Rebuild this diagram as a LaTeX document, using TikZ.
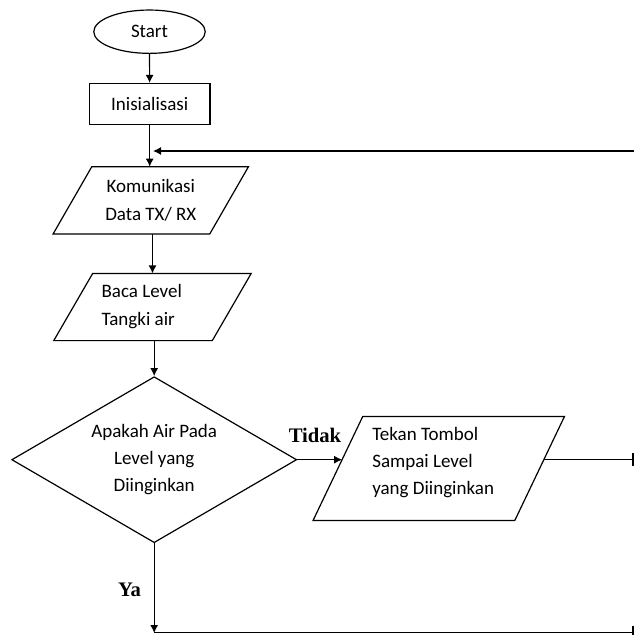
\documentclass[tikz,border=0pt]{standalone}
\usepackage{fontspec}
\setmainfont{Carlito}
\newfontfamily\branchfont{Liberation Serif}
\usetikzlibrary{shapes.geometric,arrows.meta,calc}

% slanted input/output box drawn around a borderless rectangle node
\newcommand\slantbox[2]{%
  \draw ([xshift=#2]#1.north west) -- ([xshift=#2]#1.north east)
     -- ([xshift=-#2]#1.south east) -- ([xshift=-#2]#1.south west) -- cycle;}

\begin{document}
\begin{tikzpicture}[x=0.75pt,y=-0.75pt,line width=0.9pt,
  every node/.style={font=\fontsize{14.25}{20.4}\selectfont,inner sep=0pt},
  flow/.style={-{Latex[length=6pt,width=6pt]}},
  rail/.style={-{Bar[width=9.75pt]}},
  terminal/.style={ellipse,draw,minimum width=83.6pt,minimum height=32.5pt},
  process/.style={rectangle,draw,minimum width=90.5pt,minimum height=30.75pt},
  iobox/.style={rectangle,draw=none},
  decision/.style={diamond,draw,aspect=1.717,minimum width=213.75pt,minimum height=124.5pt},
  branch/.style={font=\branchfont\bfseries\fontsize{15.5}{18}\selectfont}]

\useasboundingbox (0,0) rectangle (634,635);

% main column
\node[terminal] (start) at (149.5,31.7) {Start};
\node[process] (init) at (149.7,104) {Inisialisasi};

\node[iobox,minimum width=116.6pt,minimum height=49.5pt,align=center] (comm) at (150.8,200.3)
  {Komunikasi\\Data TX/ RX};
\slantbox{comm}{14.5pt}

\node[iobox,minimum width=118pt,minimum height=49.5pt] (read) at (152.5,307) {};
\slantbox{read}{14.6pt}
\node[anchor=west,align=left] (readtext) at (101,306.5) {Baca Level\\Tangki air};

\node[decision,align=center] (check) at (154.2,459.7)
  {Apakah Air Pada\\Level yang\\Diinginkan};

% side branch
\node[iobox,minimum width=150.4pt,minimum height=77pt] (press) at (438.75,468.5) {};
\slantbox{press}{18.6pt}
\node[anchor=west,align=left] (presstext) at (371.7,462.7)
  {Tekan Tombol\\Sampai Level\\yang Diinginkan};

% points on the slanted sides at the height of the decision
\coordinate (pressin)  at ($([xshift=18.6pt]press.north west)!0.414!([xshift=-18.6pt]press.south west)$);
\coordinate (pressout) at ($([xshift=18.6pt]press.north east)!0.414!([xshift=-18.6pt]press.south east)$);

% return lines along the right margin and the bottom
\coordinate (edge) at (633.6,0);
\coordinate (loopR) at (634,151);
\coordinate (join) at (153,151);
\coordinate (yes) at (154.2,633);

% connectors
\draw[flow] (start) -- (init);
\draw[flow] (init.south) -- (init.south |- comm.north);
\draw[flow] (comm.south -| read.north) -- (read.north);
\draw[flow] (read.south -| check.north) -- (check.north);
\draw[flow] (check.east) -- (check.east -| pressin);
\draw[rail] (check.east -| pressout) -- (check.east -| edge);
\draw[flow] (loopR) -- (join);
\draw[flow] (check.south) -- (yes);
\draw[rail] ([yshift=0.5pt]yes) -- ([yshift=0.5pt]yes -| edge);

% branch labels
\node[branch] (no) at (315,435) {Tidak};
\node[branch] (ya) at (129.5,590) {Ya};
\end{tikzpicture}
\end{document}
